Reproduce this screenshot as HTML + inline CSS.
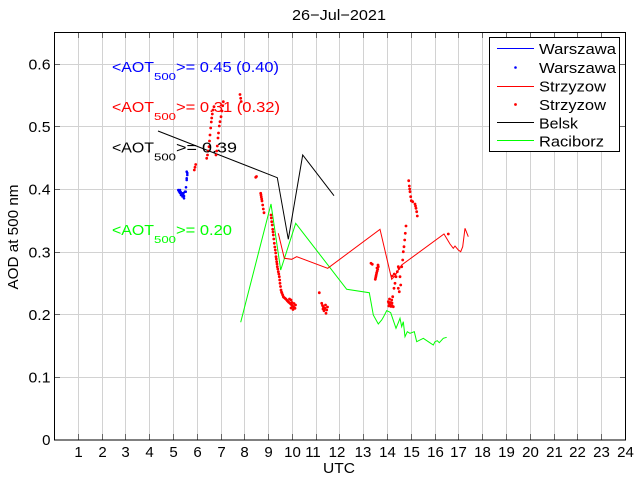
<!DOCTYPE html>
<html><head><meta charset="utf-8"><style>
html,body{margin:0;padding:0;background:#fff;}
svg{display:block;}
text{font-family:"Liberation Sans",Arial,sans-serif;}
</style></head><body>
<svg width="640" height="480" viewBox="0 0 640 480" xmlns="http://www.w3.org/2000/svg">
<rect width="640" height="480" fill="#fff"/>
<!-- grid -->
<g stroke="#d2d2d2" stroke-width="1" fill="none">
<path d="M78.5 32V440M102.5 32V440M125.5 32V440M149.5 32V440M173.5 32V440M197.5 32V440M221.5 32V440M244.5 32V440M268.5 32V440M292.5 32V440M316.5 32V440M339.5 32V440M363.5 32V440M387.5 32V440M411.5 32V440M435.5 32V440M458.5 32V440M482.5 32V440M506.5 32V440M530.5 32V440M554.5 32V440M577.5 32V440M601.5 32V440"/>
<path d="M54 377.5H626M54 314.5H626M54 252.5H626M54 189.5H626M54 126.5H626M54 64.5H626"/>
</g>
<!-- ticks -->
<g stroke="#666" stroke-width="1" fill="none">
<path d="M78.5 440v-6M102.5 440v-6M125.5 440v-6M149.5 440v-6M173.5 440v-6M197.5 440v-6M221.5 440v-6M244.5 440v-6M268.5 440v-6M292.5 440v-6M316.5 440v-6M339.5 440v-6M363.5 440v-6M387.5 440v-6M411.5 440v-6M435.5 440v-6M458.5 440v-6M482.5 440v-6M506.5 440v-6M530.5 440v-6M554.5 440v-6M577.5 440v-6M601.5 440v-6"/>
<path d="M78.5 32v6M102.5 32v6M125.5 32v6M149.5 32v6M173.5 32v6M197.5 32v6M221.5 32v6M244.5 32v6M268.5 32v6M292.5 32v6M316.5 32v6M339.5 32v6M363.5 32v6M387.5 32v6M411.5 32v6M435.5 32v6M458.5 32v6M482.5 32v6M506.5 32v6M530.5 32v6M554.5 32v6M577.5 32v6M601.5 32v6"/>
<path d="M54 377.5h6M54 314.5h6M54 252.5h6M54 189.5h6M54 126.5h6M54 64.5h6"/>
<path d="M626 377.5h-6M626 314.5h-6M626 252.5h-6M626 189.5h-6M626 126.5h-6M626 64.5h-6"/>
</g>
<!-- axes box -->
<rect x="54.5" y="32.5" width="571" height="407.5" fill="none" stroke="#000" stroke-width="1"/>

<!-- Belsk -->
<polyline fill="none" stroke="#000" stroke-width="1" points="158,131 277.3,177.7 288.3,239.3 302.7,155 334,195.7"/>
<!-- Raciborz -->
<polyline fill="none" stroke="#00ff00" stroke-width="1" points="240.7,322.3 271,204 280.7,270 295.7,223.3 346.7,289.3 369.3,292.7 373.3,315 378.3,324 381.7,320 383.3,317.3 386.7,310.7 389,311.7 390.7,312.7 396,328.3 398.3,322.7 400,318.3 401.7,326.7 403.3,321.7 405,336.7 407.3,331.7 410,333.3 414.3,331.7 416.7,341.7 423.3,338.3 428.3,341.7 433.3,345 435,341.7 437.3,340.7 439.3,342.7 443.3,338.3 446.7,337.3"/>
<!-- Strzyzow line -->
<polyline fill="none" stroke="#ff0000" stroke-width="1" points="278.3,233.3 284.3,258.3 291.7,259.3 296.7,256.7 327.7,268.3 380,229.3 391.7,279.3 395,276 397.3,271.7 401.7,265 444,234 450,244 453.3,248.3 455,246 458.3,250 460.7,251.7 462.7,246.7 465,228.3 468.3,236.7"/>

<!-- Strzyzow dots -->
<g fill="#ff0000">
<circle cx="194.3" cy="170" r="1.4"/><circle cx="195" cy="167.3" r="1.4"/><circle cx="195.7" cy="164.5" r="1.4"/>
<circle cx="206.7" cy="158.3" r="1.4"/><circle cx="207.5" cy="155" r="1.4"/><circle cx="208.3" cy="151" r="1.4"/><circle cx="209" cy="146.7" r="1.4"/><circle cx="209.5" cy="141" r="1.4"/><circle cx="210" cy="135" r="1.4"/><circle cx="210.7" cy="128" r="1.4"/><circle cx="211.3" cy="122" r="1.4"/><circle cx="211.7" cy="118" r="1.4"/><circle cx="212.3" cy="114" r="1.4"/><circle cx="213" cy="110" r="1.4"/><circle cx="214" cy="106.7" r="1.4"/>
<circle cx="216" cy="155" r="1.4"/><circle cx="216.7" cy="151" r="1.4"/><circle cx="217.3" cy="146" r="1.4"/><circle cx="218" cy="138" r="1.4"/><circle cx="218.5" cy="133" r="1.4"/><circle cx="219.3" cy="126" r="1.4"/><circle cx="220" cy="121.7" r="1.4"/><circle cx="221" cy="116.7" r="1.4"/><circle cx="222" cy="111" r="1.4"/><circle cx="222.7" cy="105.7" r="1.4"/><circle cx="223.3" cy="101.7" r="1.4"/>
<circle cx="240" cy="94.5" r="1.4"/><circle cx="240.7" cy="98.3" r="1.4"/><circle cx="241.2" cy="101.5" r="1.4"/>
<circle cx="255.7" cy="177.3" r="1.4"/><circle cx="256.5" cy="176.5" r="1.4"/>
<circle cx="260.7" cy="193.3" r="1.4"/><circle cx="261" cy="195" r="1.4"/><circle cx="261.3" cy="197" r="1.4"/><circle cx="261.7" cy="199" r="1.4"/><circle cx="262" cy="201" r="1.4"/><circle cx="262.7" cy="205" r="1.4"/><circle cx="263.3" cy="209" r="1.4"/><circle cx="264" cy="212.7" r="1.4"/>
<circle cx="271" cy="215" r="1.4"/><circle cx="271.3" cy="218" r="1.4"/><circle cx="271.7" cy="221.7" r="1.4"/><circle cx="272.2" cy="225" r="1.4"/><circle cx="272.7" cy="229.3" r="1.4"/><circle cx="273" cy="232" r="1.4"/><circle cx="273.3" cy="235" r="1.4"/><circle cx="273.8" cy="239" r="1.4"/><circle cx="274.3" cy="243.3" r="1.4"/><circle cx="274.8" cy="247" r="1.4"/><circle cx="275.3" cy="250" r="1.4"/><circle cx="275.7" cy="253" r="1.4"/><circle cx="276" cy="256.7" r="1.4"/><circle cx="276.3" cy="259" r="1.4"/><circle cx="276.7" cy="261.7" r="1.4"/><circle cx="277" cy="264" r="1.4"/><circle cx="277.3" cy="266.7" r="1.4"/><circle cx="277.8" cy="269" r="1.4"/><circle cx="278.3" cy="271.7" r="1.4"/><circle cx="278.8" cy="274" r="1.4"/><circle cx="279.3" cy="276.7" r="1.4"/><circle cx="279.7" cy="280" r="1.4"/><circle cx="280" cy="283.3" r="1.4"/><circle cx="280.5" cy="286.5" r="1.4"/><circle cx="281" cy="290" r="1.4"/><circle cx="281.5" cy="292" r="1.4"/><circle cx="282" cy="293.3" r="1.4"/><circle cx="282.7" cy="295" r="1.4"/><circle cx="283.3" cy="296.7" r="1.4"/><circle cx="284" cy="297.5" r="1.4"/><circle cx="285" cy="298.3" r="1.4"/><circle cx="285.8" cy="299" r="1.4"/><circle cx="286.7" cy="300" r="1.4"/><circle cx="287.5" cy="301" r="1.4"/><circle cx="288.3" cy="301.7" r="1.4"/><circle cx="289" cy="302.5" r="1.4"/><circle cx="290" cy="303.3" r="1.4"/><circle cx="290.8" cy="304" r="1.4"/><circle cx="291.7" cy="305" r="1.4"/><circle cx="292.5" cy="306" r="1.4"/><circle cx="293.3" cy="306.7" r="1.4"/><circle cx="294" cy="307.5" r="1.4"/><circle cx="295" cy="308.3" r="1.4"/><circle cx="289.5" cy="299" r="1.4"/><circle cx="291" cy="300" r="1.4"/><circle cx="292" cy="302.5" r="1.4"/><circle cx="294" cy="303.5" r="1.4"/><circle cx="295.5" cy="305" r="1.4"/><circle cx="293" cy="309.5" r="1.4"/><circle cx="291" cy="308" r="1.4"/>
<circle cx="319.3" cy="292.7" r="1.4"/><circle cx="321.7" cy="303.3" r="1.4"/><circle cx="322.5" cy="305.5" r="1.4"/><circle cx="323.3" cy="306.7" r="1.4"/><circle cx="324" cy="310.7" r="1.4"/><circle cx="325" cy="308.3" r="1.4"/><circle cx="326" cy="313.3" r="1.4"/><circle cx="326.7" cy="310" r="1.4"/><circle cx="327.5" cy="307" r="1.4"/><circle cx="323" cy="309" r="1.4"/><circle cx="325.5" cy="305" r="1.4"/>
<circle cx="371" cy="263.3" r="1.4"/><circle cx="372.3" cy="264.3" r="1.4"/><circle cx="378.3" cy="266.7" r="1.4"/><circle cx="377.7" cy="269.3" r="1.4"/><circle cx="377.2" cy="271" r="1.4"/><circle cx="376.7" cy="272.7" r="1.4"/><circle cx="376.3" cy="274.5" r="1.4"/><circle cx="376" cy="276" r="1.4"/><circle cx="375.7" cy="277.5" r="1.4"/><circle cx="375.3" cy="279.3" r="1.4"/><circle cx="377" cy="268" r="1.4"/><circle cx="378" cy="265" r="1.4"/>
<circle cx="388.3" cy="301.7" r="1.4"/><circle cx="389" cy="303.5" r="1.4"/><circle cx="390" cy="305" r="1.4"/><circle cx="391" cy="306.5" r="1.4"/><circle cx="392" cy="305.5" r="1.4"/><circle cx="393.3" cy="306.7" r="1.4"/><circle cx="389.5" cy="299" r="1.4"/><circle cx="391.7" cy="300" r="1.4"/><circle cx="392.7" cy="296.7" r="1.4"/><circle cx="390.5" cy="302.5" r="1.4"/><circle cx="392" cy="303" r="1.4"/><circle cx="388.8" cy="306" r="1.4"/>
<circle cx="394" cy="288.3" r="1.4"/><circle cx="395" cy="283.3" r="1.4"/><circle cx="396" cy="276.7" r="1.4"/><circle cx="397.3" cy="271.7" r="1.4"/><circle cx="398.3" cy="266.7" r="1.4"/><circle cx="399" cy="268.5" r="1.4"/><circle cx="400" cy="276.7" r="1.4"/><circle cx="398.3" cy="288.3" r="1.4"/><circle cx="399.3" cy="291.7" r="1.4"/><circle cx="400.7" cy="285" r="1.4"/><circle cx="401.7" cy="266.7" r="1.4"/><circle cx="402.7" cy="260" r="1.4"/><circle cx="403.3" cy="251.7" r="1.4"/><circle cx="404" cy="246.7" r="1.4"/><circle cx="404.7" cy="240" r="1.4"/><circle cx="405.3" cy="233.3" r="1.4"/><circle cx="406" cy="226" r="1.4"/><circle cx="392.3" cy="276" r="1.4"/><circle cx="394.3" cy="274" r="1.4"/>
<circle cx="408.7" cy="180.7" r="1.4"/><circle cx="409.3" cy="186" r="1.4"/><circle cx="409.7" cy="189" r="1.4"/><circle cx="410" cy="191.7" r="1.4"/><circle cx="410.7" cy="196.7" r="1.4"/><circle cx="411.3" cy="200.7" r="1.4"/><circle cx="412.7" cy="201.7" r="1.4"/><circle cx="415" cy="204" r="1.4"/><circle cx="415.5" cy="206" r="1.4"/><circle cx="416" cy="208.3" r="1.4"/><circle cx="416.7" cy="211.7" r="1.4"/><circle cx="417.3" cy="216" r="1.4"/>
<circle cx="448.3" cy="234" r="1.4"/>
</g>
<!-- Warszawa dots -->
<g fill="#0000ff">
<circle cx="178.3" cy="190" r="1.3"/><circle cx="179" cy="191.5" r="1.3"/><circle cx="180" cy="190" r="1.3"/><circle cx="180.7" cy="192" r="1.3"/><circle cx="181.3" cy="193.3" r="1.3"/><circle cx="182" cy="194.5" r="1.3"/><circle cx="182.7" cy="193.3" r="1.3"/><circle cx="183.3" cy="195" r="1.3"/><circle cx="184" cy="198.3" r="1.3"/><circle cx="184" cy="196" r="1.3"/><circle cx="182.5" cy="196.5" r="1.3"/><circle cx="181" cy="195" r="1.3"/><circle cx="185" cy="191.7" r="1.3"/><circle cx="185.7" cy="191.7" r="1.3"/><circle cx="186" cy="187.3" r="1.3"/><circle cx="186.7" cy="180" r="1.3"/><circle cx="186.7" cy="178.3" r="1.3"/><circle cx="187.3" cy="175" r="1.3"/><circle cx="186.7" cy="171.7" r="1.3"/><circle cx="187.3" cy="173" r="1.3"/><circle cx="183.5" cy="193" r="1.3"/><circle cx="180" cy="193" r="1.3"/>
</g>

<!-- annotations -->
<g font-size="15">
<text x="112" y="72" fill="#0000ff" textLength="42" lengthAdjust="spacingAndGlyphs">&lt;AOT</text>
<text x="154" y="80" fill="#0000ff" font-size="10.5" textLength="22" lengthAdjust="spacingAndGlyphs">500</text>
<text x="176" y="72" fill="#0000ff" textLength="103" lengthAdjust="spacingAndGlyphs">&gt;= 0.45 (0.40)</text>

<text x="112" y="112" fill="#ff0000" textLength="42" lengthAdjust="spacingAndGlyphs">&lt;AOT</text>
<text x="154" y="120" fill="#ff0000" font-size="10.5" textLength="22" lengthAdjust="spacingAndGlyphs">500</text>
<text x="176" y="112" fill="#ff0000" textLength="104" lengthAdjust="spacingAndGlyphs">&gt;= 0.31 (0.32)</text>

<text x="112" y="152.5" fill="#000" textLength="42" lengthAdjust="spacingAndGlyphs">&lt;AOT</text>
<text x="154" y="160.5" fill="#000" font-size="10.5" textLength="22" lengthAdjust="spacingAndGlyphs">500</text>
<text x="176" y="152.5" fill="#000" textLength="61" lengthAdjust="spacingAndGlyphs">&gt;= 0.39</text>

<text x="112" y="235" fill="#00ff00" textLength="42" lengthAdjust="spacingAndGlyphs">&lt;AOT</text>
<text x="154" y="243" fill="#00ff00" font-size="10.5" textLength="22" lengthAdjust="spacingAndGlyphs">500</text>
<text x="176" y="235" fill="#00ff00" textLength="56" lengthAdjust="spacingAndGlyphs">&gt;= 0.20</text>
</g>

<!-- y tick labels -->
<g font-size="15" fill="#000" text-anchor="end">
<text x="50.5" y="445">0</text>
<text x="50.5" y="382.5" textLength="22" lengthAdjust="spacingAndGlyphs">0.1</text>
<text x="50.5" y="320" textLength="22" lengthAdjust="spacingAndGlyphs">0.2</text>
<text x="50.5" y="257.5" textLength="22" lengthAdjust="spacingAndGlyphs">0.3</text>
<text x="50.5" y="194.5" textLength="22" lengthAdjust="spacingAndGlyphs">0.4</text>
<text x="50.5" y="132" textLength="22" lengthAdjust="spacingAndGlyphs">0.5</text>
<text x="50.5" y="69.5" textLength="22" lengthAdjust="spacingAndGlyphs">0.6</text>
</g>
<!-- x tick labels -->
<g font-size="15" fill="#000" text-anchor="middle">
<text x="78.5" y="457">1</text><text x="102.5" y="457">2</text><text x="125.5" y="457">3</text><text x="149.5" y="457">4</text><text x="173.5" y="457">5</text><text x="197.5" y="457">6</text><text x="221.5" y="457">7</text><text x="244.5" y="457">8</text><text x="268.5" y="457">9</text><text x="292.5" y="457">10</text><text x="313" y="457">11</text><text x="337" y="457">12</text><text x="363" y="457">13</text><text x="387.5" y="457">14</text><text x="411.5" y="457">15</text><text x="435.5" y="457">16</text><text x="458.5" y="457">17</text><text x="482.5" y="457">18</text><text x="506.5" y="457">19</text><text x="530.5" y="457">20</text><text x="554.5" y="457">21</text><text x="577.5" y="457">22</text><text x="601.5" y="457">23</text><text x="625.5" y="457">24</text>
</g>
<text x="339" y="473" font-size="15" text-anchor="middle" textLength="32" lengthAdjust="spacingAndGlyphs">UTC</text>
<text x="339" y="20" font-size="15" text-anchor="middle" textLength="94" lengthAdjust="spacingAndGlyphs">26−Jul−2021</text>
<text transform="translate(18,237) rotate(-90)" font-size="15" text-anchor="middle" textLength="105" lengthAdjust="spacingAndGlyphs">AOD at 500 nm</text>

<!-- legend -->
<rect x="489.5" y="37.5" width="130" height="114" fill="#fff" stroke="#000" stroke-width="1"/>
<g stroke-width="1">
<line x1="497" y1="48.5" x2="534" y2="48.5" stroke="#0000ff"/>
<circle cx="515.5" cy="67.5" r="1.3" fill="#0000ff"/>
<line x1="497" y1="86.5" x2="534" y2="86.5" stroke="#ff0000"/>
<circle cx="515.5" cy="104.5" r="1.4" fill="#ff0000"/>
<line x1="497" y1="122.5" x2="534" y2="122.5" stroke="#000"/>
<line x1="497" y1="140.5" x2="534" y2="140.5" stroke="#00ff00"/>
</g>
<g font-size="15" fill="#000">
<text x="539" y="54" textLength="77" lengthAdjust="spacingAndGlyphs">Warszawa</text>
<text x="539" y="73" textLength="77" lengthAdjust="spacingAndGlyphs">Warszawa</text>
<text x="539" y="91.5" textLength="67" lengthAdjust="spacingAndGlyphs">Strzyzow</text>
<text x="539" y="110" textLength="67" lengthAdjust="spacingAndGlyphs">Strzyzow</text>
<text x="539" y="128.3" textLength="39" lengthAdjust="spacingAndGlyphs">Belsk</text>
<text x="539" y="146.7" textLength="65" lengthAdjust="spacingAndGlyphs">Raciborz</text>
</g>
</svg>
</body></html>
